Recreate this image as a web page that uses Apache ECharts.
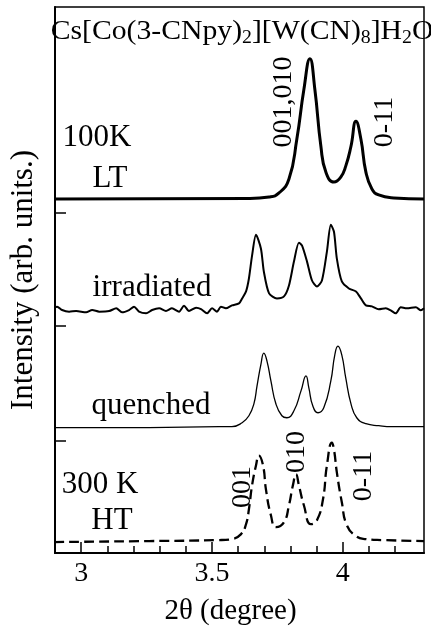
<!DOCTYPE html>
<html>
<head>
<meta charset="utf-8">
<title>Cs[Co(3-CNpy)2][W(CN)8]H2O</title>
<script src="https://cdn.jsdelivr.net/npm/echarts@6/dist/echarts.min.js"></script>
<style>
  html, body { margin: 0; padding: 0; background: #fff; }
  #chart { width: 431px; height: 631px; }
</style>
</head>
<body>
<div id="chart"></div>
<script>
// x: 2theta (degree), y: intensity in arb. units (curves already offset)
var ltData = [[2.897,356],[3.641,356.5],[3.718,358],[3.756,362],[3.794,376],[3.824,416],[3.851,466],
  [3.874,497],[3.893,466],[3.916,409],[3.935,383],[3.966,373],[3.992,378],[4.011,389],[4.031,409],
  [4.050,434],[4.069,416],[4.088,383],[4.111,366],[4.137,360],[4.195,357],[4.31,356]];

var irrData = [[2.897,247],[2.908,247.7],[2.927,244.3],[2.954,242.7],[2.981,243.3],[3.019,242],[3.042,244.3],
  [3.069,242.7],[3.107,243.3],[3.134,246],[3.156,242],[3.183,244.3],[3.202,247.7],[3.221,242.7],[3.248,241],
  [3.271,244.3],[3.298,246],[3.324,243.3],[3.347,246],[3.374,242.7],[3.393,248.7],[3.412,243.3],[3.439,246.7],
  [3.458,245.3],[3.481,241],[3.5,246],[3.519,242.7],[3.534,247.7],[3.553,246],[3.576,249],[3.603,251],
  [3.615,256],[3.630,263],[3.641,276],[3.653,299],[3.668,320],[3.687,306],[3.698,283],[3.718,261],
  [3.748,256],[3.775,258],[3.794,269],[3.813,293],[3.832,312],[3.844,309],[3.863,293],[3.882,274],
  [3.901,268],[3.920,274],[3.939,303],[3.954,330],[3.966,323],[3.977,296],[3.996,273],[4.023,266],
  [4.050,263],[4.069,256],[4.088,249],[4.111,248],[4.137,245],[4.164,246],[4.183,244],[4.202,241],
  [4.221,247],[4.244,246],[4.279,247],[4.298,244],[4.31,246]];

var quenData = [[2.897,126],[3.260,126],[3.527,127],[3.576,127],[3.615,131],[3.641,138],[3.660,150],
  [3.672,168],[3.687,190],[3.698,201],[3.710,193],[3.725,173],[3.744,150],[3.767,138],[3.786,136],
  [3.813,143],[3.840,163],[3.859,178],[3.870,166],[3.885,148],[3.905,141],[3.927,146],[3.954,173],
  [3.969,199],[3.981,208],[3.996,199],[4.011,176],[4.031,150],[4.053,136],[4.088,130],[4.137,128],
  [4.187,127],[4.31,127]];

var htData = [[2.897,11],[3.260,12],[3.527,13],[3.576,14],[3.611,19],[3.630,29],[3.641,44],[3.653,68],
  [3.668,88],[3.679,98],[3.695,88],[3.706,64],[3.725,38],[3.744,26],[3.775,31],[3.794,48],[3.809,68],
  [3.821,79],[3.832,68],[3.851,48],[3.878,29],[3.901,33],[3.924,54],[3.939,88],[3.958,111],[3.966,104],
  [3.977,81],[3.996,51],[4.015,28],[4.050,17],[4.088,14],[4.149,13],[4.31,12]];

var majorTicks = [3, 3.5, 4];
var minorTicks = [3.1, 3.2, 3.3, 3.4, 3.6, 3.7, 3.8, 3.9, 4.1, 4.2];
var offsetTicks = [113, 228, 342];

var serif = "'Liberation Serif', 'Times New Roman', serif";

var chart = echarts.init(document.getElementById('chart'));

function label(text, x, y, size, rot) {
  return {
    type: 'text', x: x, y: y, rotation: rot || 0,
    style: { text: text, font: size + 'px ' + serif, fill: '#000', align: 'center', verticalAlign: 'middle' }
  };
}

var option = {
  animation: false,
  backgroundColor: '#fff',
  grid: { left: 55, right: 7, top: 7, bottom: 75, show: true, borderColor: '#000', borderWidth: 1.5 },
  xAxis: [{
    type: 'value', min: 2.9, max: 4.31, position: 'bottom',
    axisLine: { onZero: false, lineStyle: { color: '#000', width: 2 } },
    axisTick: { inside: true, length: 11, customValues: majorTicks, lineStyle: { color: '#000', width: 1.5 } },
    axisLabel: { customValues: majorTicks, margin: 7, color: '#000', fontSize: 28, fontFamily: serif },
    splitLine: { show: false },
    name: '2θ (degree)', nameLocation: 'middle', nameGap: 44,
    nameTextStyle: { color: '#000', fontSize: 29, fontFamily: serif, padding: [0, 18, 0, 0] }
  }, {
    type: 'value', min: 2.9, max: 4.31, position: 'bottom',
    axisLine: { show: false, onZero: false },
    axisTick: { inside: true, length: 7, customValues: minorTicks, lineStyle: { color: '#000', width: 1.5 } },
    axisLabel: { show: false },
    splitLine: { show: false }
  }],
  yAxis: {
    type: 'value', min: 0, max: 549,
    axisLine: { lineStyle: { color: '#000', width: 2 } },
    axisTick: { inside: true, length: 11, customValues: offsetTicks, lineStyle: { color: '#000', width: 1.5 } },
    axisLabel: { show: false },
    splitLine: { show: false },
    name: 'Intensity (arb. units.)', nameLocation: 'middle', nameGap: 16,
    nameTextStyle: { color: '#000', fontSize: 31, fontFamily: serif }
  },
  series: [
    { name: 'LT', type: 'line', data: ltData, showSymbol: false, smooth: 0.5,
      lineStyle: { color: '#000', width: 3 } },
    { name: 'irradiated', type: 'line', data: irrData, showSymbol: false, smooth: 0.25,
      lineStyle: { color: '#000', width: 2 } },
    { name: 'quenched', type: 'line', data: quenData, showSymbol: false, smooth: 0.5,
      lineStyle: { color: '#000', width: 1.3 } },
    { name: 'HT', type: 'line', data: htData, showSymbol: false, smooth: 0.5,
      lineStyle: { color: '#000', width: 2.3, type: [10, 5] } }
  ],
  graphic: [
    {
      type: 'text', x: 242, y: 32, scaleX: 1.1,
      style: {
        text: '{n|Cs[Co(3-CNpy)}{s|2}{n|][W(CN)}{s|8}{n|]H}{s|2}{n|O}',
        align: 'center', verticalAlign: 'middle', fill: '#000',
        rich: {
          n: { fontSize: 27, fontFamily: serif, lineHeight: 30, verticalAlign: 'middle' },
          s: { fontSize: 18, fontFamily: serif, lineHeight: 10, verticalAlign: 'bottom' }
        }
      }
    },
    label('100K', 97, 138, 31),
    label('LT', 110, 179, 31),
    label('irradiated', 152, 288, 31),
    label('quenched', 151, 406, 31),
    label('300 K', 100, 485, 31),
    label('HT', 112, 521, 31),
    label('001,010', 284, 102, 28, Math.PI / 2),
    label('0-11', 385, 122, 28, Math.PI / 2),
    label('001', 243, 487, 28, Math.PI / 2),
    label('010', 297, 452, 28, Math.PI / 2),
    label('0-11', 364, 476, 28, Math.PI / 2)
  ]
};

chart.setOption(option);
</script>
</body>
</html>
